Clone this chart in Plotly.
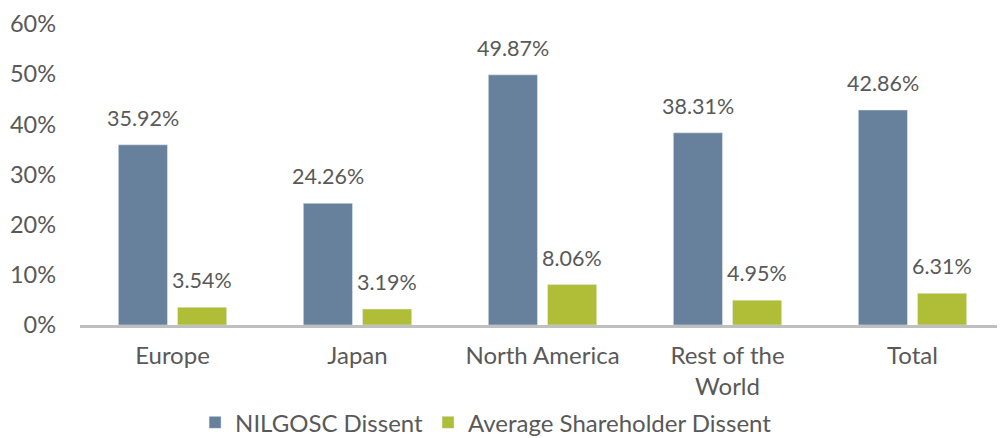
import plotly.graph_objects as go

# data
regions = ['Europe', 'Japan', 'North America', 'Rest of the<br>World', 'Total']
nilgosc = [35.92, 24.26, 49.87, 38.31, 42.86]
avg_holder = [3.54, 3.19, 8.06, 4.95, 6.31]
y_ticks = [0, 10, 20, 30, 40, 50, 60]

blue = '#67809C'
green = '#AFBD37'
grey_text = '#595959'

fig = go.Figure()

fig.add_trace(go.Bar(x=regions, y=nilgosc, name='NILGOSC Dissent',
                     marker_color=blue))
fig.add_trace(go.Bar(x=regions, y=avg_holder, name='Average Shareholder Dissent',
                     marker_color=green))

# value labels sit a bit higher above the bars than plotly's own outside text
for vals, shift in [(nilgosc, -29.5), (avg_holder, 29.5)]:
    for cat, v in zip(regions, vals):
        fig.add_annotation(x=cat, y=v, text='%.2f%%' % v, showarrow=False,
                           xshift=shift, yanchor='bottom', yshift=12,
                           font={'size': 21.5, 'color': grey_text})

# page body has an 8px margin, so the figure is 8px smaller than the window
fig.update_layout(
    width=997, height=430,
    barmode='group', bargap=0.36, bargroupgap=0.17,
    plot_bgcolor='white', paper_bgcolor='white',
    font={'family': 'Lato', 'color': grey_text, 'size': 21},
    margin={'l': 72, 'r': 0, 't': 16, 'b': 113, 'autoexpand': False},
    xaxis={'showline': True, 'linecolor': '#BFBFBF', 'linewidth': 3,
           'tickfont': {'size': 24}, 'ticks': '', 'ticklabelstandoff': 7},
    yaxis={'range': [0, 60], 'tickvals': y_ticks,
           'ticktext': ['%d%%' % v for v in y_ticks],
           'showgrid': False, 'zeroline': False, 'ticklabeloverflow': 'allow',
           'tickfont': {'size': 23.5}, 'ticklabelstandoff': 23},
    legend={'orientation': 'h', 'x': 0.439, 'xanchor': 'center',
            'y': -0.25, 'yanchor': 'top', 'font': {'size': 24},
            'itemwidth': 30, 'traceorder': 'normal'},
)

fig.write_html("out.html")
